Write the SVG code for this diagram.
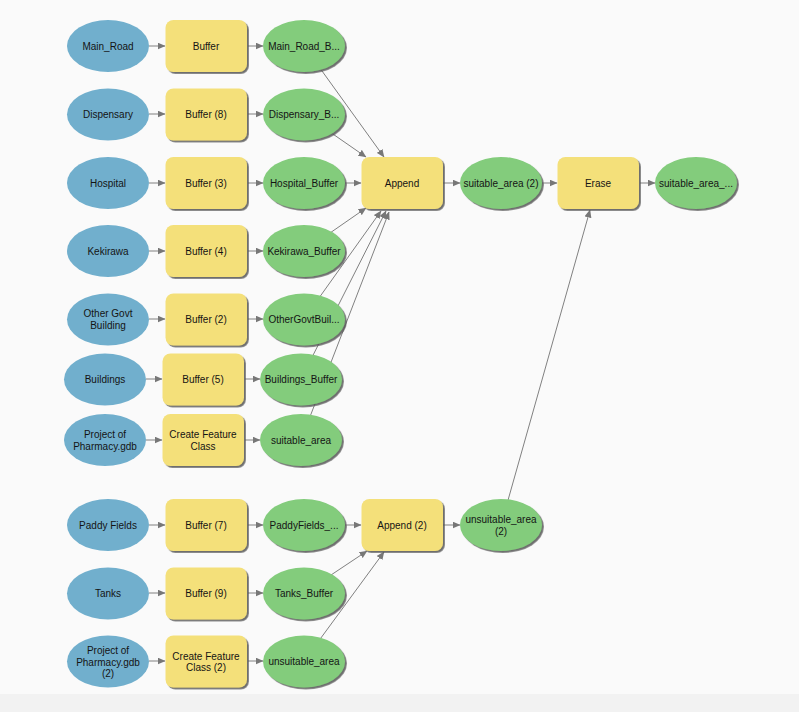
<svg xmlns="http://www.w3.org/2000/svg" width="799" height="712" viewBox="0 0 799 712">
<style>
text{font-family:"Liberation Sans",Arial,sans-serif;font-size:10px;fill:#141414;text-anchor:middle}
.b{fill:#71afcd}
.g{fill:#83cc7c;filter:url(#s)}
.y{fill:#f4e07a;filter:url(#s)}
#connectors line{stroke:#808080;stroke-width:1;marker-end:url(#a)}
</style>
<defs>
<marker id="a" markerUnits="userSpaceOnUse" markerWidth="8" markerHeight="7" refX="7.500" refY="3.500" orient="auto"><path d="M0 0L8 3.500L0 7Z" fill="#777"/></marker>
<filter id="s" x="-10%" y="-10%" width="125%" height="130%"><feDropShadow dx="1.800" dy="1.800" stdDeviation="0.600" flood-color="#555" flood-opacity="0.85"/></filter>
</defs>
<rect width="799" height="712" fill="#fafafa"/>
<rect y="694" width="799" height="18" fill="#f2f2f2"/>
<g id="connectors">
<line x1="149" y1="46" x2="165" y2="46"/><line x1="248" y1="46" x2="263" y2="46"/>
<line x1="149" y1="114" x2="165" y2="114"/><line x1="248" y1="114" x2="263" y2="114"/>
<line x1="149" y1="183" x2="165" y2="183"/><line x1="248" y1="183" x2="263" y2="183"/>
<line x1="149" y1="251" x2="165" y2="251"/><line x1="248" y1="251" x2="263" y2="251"/>
<line x1="149" y1="319" x2="165" y2="319"/><line x1="248" y1="319" x2="263" y2="319"/>
<line x1="146" y1="379" x2="162" y2="379"/><line x1="245" y1="379" x2="260" y2="379"/>
<line x1="146" y1="440" x2="162" y2="440"/><line x1="245" y1="440" x2="260" y2="440"/>
<line x1="149" y1="525" x2="165" y2="525"/><line x1="248" y1="525" x2="263" y2="525"/>
<line x1="149" y1="593" x2="165" y2="593"/><line x1="248" y1="593" x2="263" y2="593"/>
<line x1="149" y1="661" x2="165" y2="661"/><line x1="248" y1="661" x2="263" y2="661"/>
<line x1="304" y1="46" x2="384" y2="157"/>
<line x1="304" y1="114" x2="366" y2="157"/>
<line x1="345" y1="183" x2="361" y2="183"/>
<line x1="304" y1="251" x2="366" y2="208"/>
<line x1="304" y1="319" x2="381" y2="211"/>
<line x1="301" y1="379" x2="386" y2="211"/>
<line x1="301" y1="440" x2="389" y2="212"/>
<line x1="443" y1="183" x2="460" y2="183"/>
<line x1="542" y1="183" x2="557" y2="183"/>
<line x1="640" y1="183" x2="655" y2="183"/>
<line x1="345" y1="525" x2="361" y2="525"/>
<line x1="304" y1="593" x2="367" y2="551"/>
<line x1="304" y1="661" x2="384" y2="552"/>
<line x1="443" y1="525" x2="460" y2="525"/>
<line x1="501" y1="525" x2="590" y2="210"/>
</g>
<g id="n1"><ellipse class="b" cx="108" cy="46" rx="41" ry="26"/><text x="108" y="49.500">Main_Road</text></g>
<g id="n2"><rect class="y" x="165.500" y="20" width="81.500" height="52" rx="8"/><text x="206" y="49.500">Buffer</text></g>
<g id="n3"><ellipse class="g" cx="304" cy="46" rx="41" ry="26"/><text x="304" y="49.500">Main_Road_B...</text></g>
<g id="n4"><ellipse class="b" cx="108" cy="114.500" rx="41" ry="26"/><text x="108" y="118">Dispensary</text></g>
<g id="n5"><rect class="y" x="165.500" y="88.500" width="81.500" height="52" rx="8"/><text x="206" y="118">Buffer (8)</text></g>
<g id="n6"><ellipse class="g" cx="304" cy="114.500" rx="41" ry="26"/><text x="304" y="118">Dispensary_B...</text></g>
<g id="n7"><ellipse class="b" cx="108" cy="183" rx="41" ry="26"/><text x="108" y="186.500">Hospital</text></g>
<g id="n8"><rect class="y" x="165.500" y="157" width="81.500" height="52" rx="8"/><text x="206" y="186.500">Buffer (3)</text></g>
<g id="n9"><ellipse class="g" cx="304" cy="183" rx="41" ry="26"/><text x="304" y="186.500">Hospital_Buffer</text></g>
<g id="n10"><ellipse class="b" cx="108" cy="251" rx="41" ry="26"/><text x="108" y="254.500">Kekirawa</text></g>
<g id="n11"><rect class="y" x="165.500" y="225" width="81.500" height="52" rx="8"/><text x="206" y="254.500">Buffer (4)</text></g>
<g id="n12"><ellipse class="g" cx="304" cy="251" rx="41" ry="26"/><text x="304" y="254.500">Kekirawa_Buffer</text></g>
<g id="n13"><ellipse class="b" cx="108" cy="319.500" rx="41" ry="26"/><text x="108" y="317">Other Govt</text><text x="108" y="329">Building</text></g>
<g id="n14"><rect class="y" x="165.500" y="293.500" width="81.500" height="52" rx="8"/><text x="206" y="323">Buffer (2)</text></g>
<g id="n15"><ellipse class="g" cx="304" cy="319.500" rx="41" ry="26"/><text x="304" y="323">OtherGovtBuil...</text></g>
<g id="n16"><ellipse class="b" cx="105" cy="379.500" rx="41" ry="26"/><text x="105" y="383">Buildings</text></g>
<g id="n17"><rect class="y" x="162.500" y="353.500" width="81.500" height="52" rx="8"/><text x="203" y="383">Buffer (5)</text></g>
<g id="n18"><ellipse class="g" cx="301" cy="379.500" rx="41" ry="26"/><text x="301" y="383">Buildings_Buffer</text></g>
<g id="n19"><ellipse class="b" cx="105" cy="440" rx="41" ry="26"/><text x="105" y="437.500">Project of</text><text x="105" y="449.500">Pharmacy.gdb</text></g>
<g id="n20"><rect class="y" x="162.500" y="414" width="81.500" height="52" rx="8"/><text x="203" y="437.500">Create Feature</text><text x="203" y="449.500">Class</text></g>
<g id="n21"><ellipse class="g" cx="301" cy="440" rx="41" ry="26"/><text x="301" y="443.500">suitable_area</text></g>
<g id="n22"><ellipse class="b" cx="108" cy="525" rx="41" ry="26"/><text x="108" y="528.500">Paddy Fields</text></g>
<g id="n23"><rect class="y" x="165.500" y="499" width="81.500" height="52" rx="8"/><text x="206" y="528.500">Buffer (7)</text></g>
<g id="n24"><ellipse class="g" cx="304" cy="525" rx="41" ry="26"/><text x="304" y="528.500">PaddyFields_...</text></g>
<g id="n25"><ellipse class="b" cx="108" cy="593.500" rx="41" ry="26"/><text x="108" y="597">Tanks</text></g>
<g id="n26"><rect class="y" x="165.500" y="567.500" width="81.500" height="52" rx="8"/><text x="206" y="597">Buffer (9)</text></g>
<g id="n27"><ellipse class="g" cx="304" cy="593.500" rx="41" ry="26"/><text x="304" y="597">Tanks_Buffer</text></g>
<g id="n28"><ellipse class="b" cx="108" cy="661.500" rx="41" ry="26"/><text x="108" y="654">Project of</text><text x="108" y="665.500">Pharmacy.gdb</text><text x="108" y="677">(2)</text></g>
<g id="n29"><rect class="y" x="165.500" y="635.500" width="81.500" height="52" rx="8"/><text x="206" y="659.500">Create Feature</text><text x="206" y="671">Class (2)</text></g>
<g id="n30"><ellipse class="g" cx="304" cy="661.500" rx="41" ry="26"/><text x="304" y="665">unsuitable_area</text></g>
<g id="n31"><rect class="y" x="361.500" y="157" width="81.500" height="52" rx="8"/><text x="402" y="186.500">Append</text></g>
<g id="n32"><ellipse class="g" cx="501" cy="183" rx="41" ry="26"/><text x="501" y="186.500">suitable_area (2)</text></g>
<g id="n33"><rect class="y" x="557.500" y="157" width="81.500" height="52" rx="8"/><text x="598" y="186.500">Erase</text></g>
<g id="n34"><ellipse class="g" cx="696" cy="183" rx="41" ry="26"/><text x="696" y="186.500">suitable_area_...</text></g>
<g id="n35"><rect class="y" x="361.500" y="499" width="81.500" height="52" rx="8"/><text x="402" y="528.500">Append (2)</text></g>
<g id="n36"><ellipse class="g" cx="501" cy="525" rx="41" ry="26"/><text x="501" y="522.500">unsuitable_area</text><text x="501" y="534.500">(2)</text></g>
</svg>
